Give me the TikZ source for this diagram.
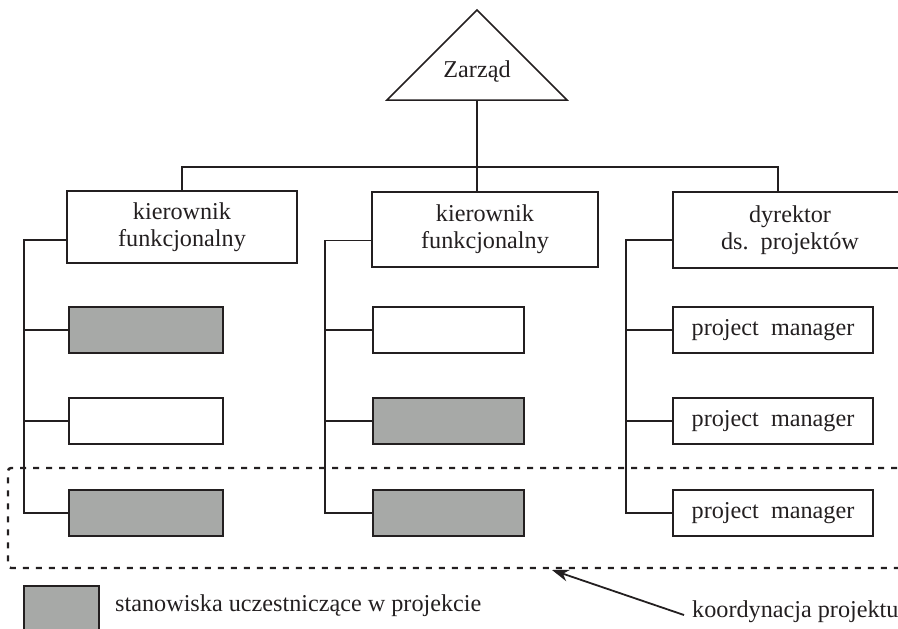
\documentclass[tikz,border=0pt]{standalone}
\usepackage{fontspec}
\setmainfont{Liberation Serif}
\usetikzlibrary{arrows.meta}
\definecolor{ink}{HTML}{231F20}
\definecolor{shade}{HTML}{A7A9A7}
\begin{document}
\begin{tikzpicture}[x=1pt,y=-1pt,
  every node/.style={font=\fontsize{24.2}{27}\selectfont, text=ink},
  post/.style={draw=ink, line width=1.6pt, rectangle, inner sep=0pt, align=center},
  head/.style={post, minimum height=72, text width=220},
  unit/.style={post, minimum height=46},
  part/.style={unit, fill=shade},
  link/.style={draw=ink, line width=1.5pt},
  coord/.style={draw=ink, line width=2.4pt, dash pattern=on 6pt off 7pt, rounded corners=3pt}]
\useasboundingbox (0,0) rectangle (898,629);
\clip (0,0) rectangle (898,629);

% board
\draw[link, line join=miter] (387,100) -- (477,10) -- (567,100) -- cycle;
\node (zar) at (477,71) {Zarząd};
\coordinate (zbase) at (477,100);
\coordinate (bus) at (477,167);

% heads of the three columns
\node[head, minimum width=230] (b1) at (182,227) {kierownik\\funkcjonalny};
\node[head, minimum width=226, minimum height=75] (b2) at (485,229.5) {kierownik\\funkcjonalny};
\node[head, minimum width=234, minimum height=76] (b3) at (790,230) {dyrektor\\ds. projektów};

% staff boxes
\node[part, minimum width=154] (s11) at (146,330) {};
\node[unit, minimum width=154] (s12) at (146,421) {};
\node[part, minimum width=154] (s13) at (146,513) {};
\node[unit, minimum width=151] (s21) at (448.5,330) {};
\node[part, minimum width=151] (s22) at (448.5,421) {};
\node[part, minimum width=151] (s23) at (448.5,513) {};
\node[unit, minimum width=200] (s31) at (773,330) {project\ \ manager};
\node[unit, minimum width=200] (s32) at (773,421) {project\ \ manager};
\node[unit, minimum width=200] (s33) at (773,513) {project\ \ manager};

% top-level connectors
\draw[link] (zbase) -- (bus);
\draw[link] (b1.north) |- ([xshift=-12pt]b3.north |- bus) -- ([xshift=-12pt]b3.north);
\draw[link] (bus) -- ([xshift=-8pt]b2.north);

% column spines
\coordinate (c1) at ([yshift=-13pt]b1.west);
\coordinate (c2) at ([yshift=-11pt]b2.west);
\coordinate (c3) at ([yshift=-10pt]b3.west);
\coordinate (v1) at (24,0);
\coordinate (v2) at (325,0);
\coordinate (v3) at (626,0);
\draw[link] (c1) -- (c1 -| v1) |- (s13.west);
\draw[link] (s11.west) -- (s11.west -| v1);
\draw[link] (s12.west) -- (s12.west -| v1);
\draw[link] (c2) -- (c2 -| v2) |- (s23.west);
\draw[link] (s21.west) -- (s21.west -| v2);
\draw[link] (s22.west) -- (s22.west -| v2);
\draw[link] (c3) -- (c3 -| v3) |- (s33.west);
\draw[link] (s31.west) -- (s31.west -| v3);
\draw[link] (s32.west) -- (s32.west -| v3);

% project coordination frame
\draw[coord] (910,468) -| (8,568) -- (910,568);
\coordinate (frame) at (552,570);

% legend
\node[part, minimum width=75, minimum height=48] (leg) at (61.5,610) {};
\node[anchor=west, inner sep=0pt] (legtext) at (115,606) {stanowiska uczestniczące w projekcie};
\node[anchor=west, inner sep=0pt] (koord) at (692,612) {koordynacja projektu};
\draw[draw=ink, line width=1.8pt, -{Stealth[length=17pt,width=12pt]}] ([xshift=-8pt,yshift=-3pt]koord.west) -- (frame);
\end{tikzpicture}
\end{document}
